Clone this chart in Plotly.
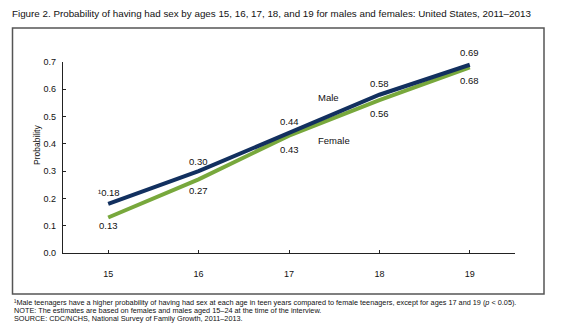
import plotly.graph_objects as go

ages = [15, 16, 17, 18, 19]
male = [0.18, 0.30, 0.44, 0.58, 0.69]
female = [0.13, 0.27, 0.43, 0.56, 0.68]
male_labels = ["¹0.18", "0.30", "0.44", "0.58", "0.69"]
female_labels = ["0.13", "0.27", "0.43", "0.56", "0.68"]
male_shift = [11, 10, 11, 11, 12]
female_shift = [-8, -11, -14, -13, -13]
y_ticks = [0.0, 0.1, 0.2, 0.3, 0.4, 0.5, 0.6, 0.7]

FONT = "Arial, Liberation Sans, sans-serif"
NAVY = "#12305f"
GREEN = "#78a83c"

W, H = 561, 331
L, R, T, B = 63, 46, 62, 78
PW, PH = W - L - R, H - T - B

def px_x(p):
    return (p - L) / PW

def px_y(p):
    return (H - B - p) / PH

fig = go.Figure()
fig.add_trace(go.Scatter(x=ages, y=female, mode="lines", line=dict(color=GREEN, width=4), hoverinfo="skip"))
fig.add_trace(go.Scatter(x=ages, y=male, mode="lines", line=dict(color=NAVY, width=4), hoverinfo="skip"))

LBL = dict(family=FONT, size=9.5, color="#111")
ann = []
for a, v, t, s in zip(ages, male, male_labels, male_shift):
    ann.append(dict(x=a, y=v, text=t, showarrow=False, yshift=s, xshift=1 if t.startswith("¹") else 0, font=LBL))
for a, v, t, s in zip(ages, female, female_labels, female_shift):
    ann.append(dict(x=a, y=v, text=t, showarrow=False, yshift=s, font=LBL))
ann.append(dict(x=17.44, y=0.569, text="Male", showarrow=False, font=LBL))
ann.append(dict(x=17.50, y=0.411, text="Female", showarrow=False, font=LBL))
ann.append(dict(xref="paper", yref="paper", x=px_x(30), y=px_y(123), text="Probability", textangle=-90,
                showarrow=False, font=dict(family=FONT, size=8.5, color="#111")))

foot = [
    "¹Male teenagers have a higher probability of having had sex at each age in teen years compared to female teenagers, except for ages 17 and 19 (<i>p</i> &lt; 0.05).",
    "NOTE: The estimates are based on females and males aged 15–24 at the time of the interview.",
    "SOURCE: CDC/NCHS, National Survey of Family Growth, 2011–2013.",
]
for i, t in enumerate(foot):
    ann.append(dict(xref="paper", yref="paper", x=px_x(12), y=px_y(302 + 8 * i), xanchor="left", yanchor="middle",
                    text=t, showarrow=False, font=dict(family=FONT, size=7.3, color="#111")))

fig.update_layout(
    width=W, height=H,
    margin=dict(l=L, r=R, t=T, b=B, pad=0),
    paper_bgcolor="white", plot_bgcolor="white",
    showlegend=False,
    title=dict(text="Figure 2. Probability of having had sex by ages 15, 16, 17, 18, and 19 for males and females: United States, 2011–2013",
               x=12 / W, xanchor="left", y=1 - 13.5 / H, yanchor="middle",
               font=dict(family=FONT, size=9.8, color="#111")),
    annotations=ann,
    shapes=[dict(type="rect", xref="paper", yref="paper", x0=px_x(12.5), x1=px_x(544), y0=px_y(294), y1=px_y(28),
                 line=dict(color="#555", width=1.5))],
    xaxis=dict(range=[14.5, 19.5], tickvals=ages, ticktext=[str(a) for a in ages], showgrid=False, zeroline=False,
               showline=True, linecolor="#222", linewidth=1.3, ticks="inside", ticklen=3, tickcolor="#222",
               ticklabelstandoff=12, tickfont=dict(family=FONT, size=9, color="#111"), fixedrange=True),
    yaxis=dict(range=[0, 0.7], tickvals=y_ticks, ticktext=[f"{v:.1f}" for v in y_ticks], showgrid=False, zeroline=False,
               showline=True, linecolor="#222", linewidth=1.3, ticks="inside", ticklen=3, tickcolor="#222",
               ticklabelstandoff=4, tickfont=dict(family=FONT, size=9, color="#111"), fixedrange=True),
)

fig.write_html("out.html", config=dict(displayModeBar=False))
